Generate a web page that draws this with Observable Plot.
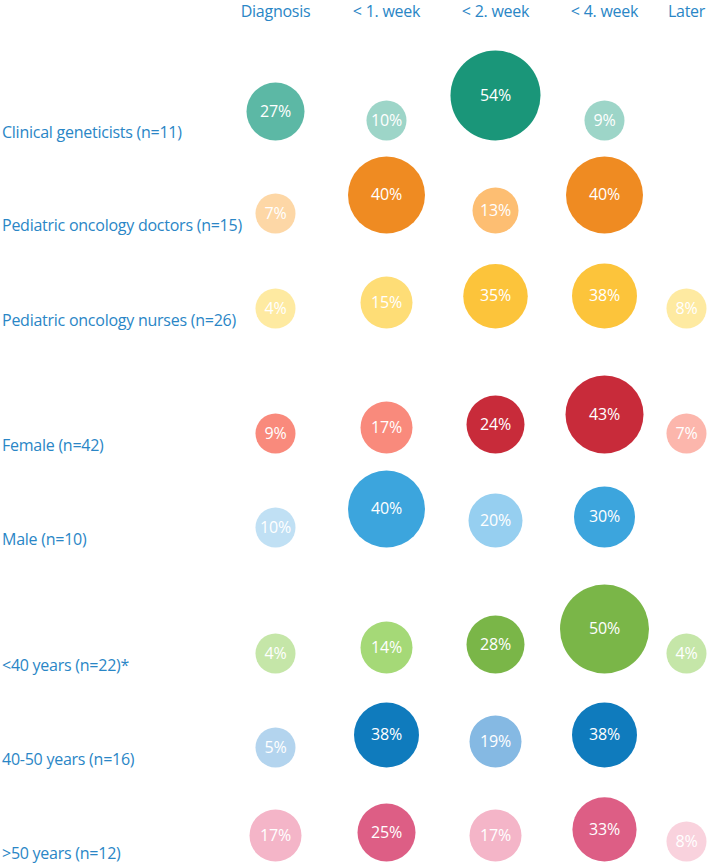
<!DOCTYPE html>
<html><head><meta charset="utf-8">
<script src="https://cdn.jsdelivr.net/npm/d3@7"></script>
<script src="https://cdn.jsdelivr.net/npm/@observablehq/plot@0.6"></script>
<style>body{margin:0;background:#fff} svg{display:block} #chart text{letter-spacing:-0.25px}</style>
</head><body><div id="chart"></div>
<script>
// ---- data ----
const columns = ["Diagnosis", "< 1. week", "< 2. week", "< 4. week", "Later"];
const groups = ["Clinical geneticists (n=11)", "Pediatric oncology doctors (n=15)", "Pediatric oncology nurses (n=26)", "Female (n=42)", "Male (n=10)", "<40 years (n=22)*", "40-50 years (n=16)", ">50 years (n=12)"];
const clinical   = [27, 10, 54,  9, null];
const doctors    = [ 7, 40, 13, 40, null];
const nurses     = [ 4, 15, 35, 38, 8];
const female     = [ 9, 17, 24, 43, 7];
const male       = [10, 40, 20, 30, null];
const under40    = [ 4, 14, 28, 50, 4];
const age40to50  = [ 5, 38, 19, 38, null];
const over50     = [17, 25, 17, 33, 8];
// shade level of each bubble
const clinicalTone  = ["mid", "light", "dark", "light", null];
const doctorsTone   = ["light", "dark", "mid", "dark", null];
const nursesTone    = ["light", "mid", "dark", "dark", "light"];
const femaleTone    = ["mid", "mid", "dark", "dark", "light"];
const maleTone      = ["light", "dark", "mid", "dark", null];
const under40Tone   = ["light", "mid", "dark", "dark", "light"];
const age40to50Tone = ["light", "dark", "mid", "dark", null];
const over50Tone    = ["mid", "dark", "mid", "dark", "light"];

// ---- styles ----
const paletteDark  = ["#1a9679", "#ef8b22", "#fcc43b", "#c82b3a", "#3ca5dd", "#7ab648", "#0f7bbd", "#dd5e85"];
const paletteMid   = ["#5cb8a5", "#fdbe72", "#fedd76", "#f98a7c", "#96cff0", "#a5d977", "#85b9e3", "#f4b5c8"];
const paletteLight = ["#9dd5c8", "#fdd7a6", "#feeaa1", "#fcb6ac", "#c0e0f4", "#c5e6a8", "#b3d4ee", "#f9d2dd"];
const blue = "#2a86c6";

const values = [clinical, doctors, nurses, female, male, under40, age40to50, over50];
const tones = [clinicalTone, doctorsTone, nursesTone, femaleTone, maleTone, under40Tone, age40to50Tone, over50Tone];

const xOpts = {type: "linear", domain: [0, 1, 2, 3, 4], range: [275, 386, 495, 604, 686]};
const yOpts = {type: "linear", domain: [0, 1, 2, 3, 4, 5, 6, 7], range: [140, 233, 328, 453, 547, 673, 767, 861]};
const rOpts = {type: "linear", domain: [0, 12, 14, 19, 22, 28, 32, 38, 40, 43, 50, 54], range: [20, 20, 26, 26, 29, 29, 32, 32.5, 38.5, 39, 44.5, 45]};

const yS = Plot.scale({y: yOpts});
const rS = Plot.scale({r: rOpts});

const cells = groups.flatMap((g, gi) => columns.map((c, ci) => ({
  g, gi, ci, v: values[gi][ci], tone: tones[gi][ci]
}))).filter(d => d.v != null);
// bubbles sit on a common baseline per row
cells.forEach(d => { d.yc = yS.invert(yS.apply(d.gi) - rS.apply(d.v)); });

const colorDomain = groups.flatMap(g => ["dark", "mid", "light"].map(t => g + "|" + t));
const colorRange = groups.flatMap((g, i) => [paletteDark[i], paletteMid[i], paletteLight[i]]);

const chart = Plot.plot({
  width: 709,
  height: 864,
  margin: 0,
  x: {...xOpts, axis: null},
  y: {...yOpts, axis: null},
  r: rOpts,
  color: {type: "ordinal", domain: colorDomain, range: colorRange},
  style: {fontFamily: "'Open Sans', sans-serif", background: "#fff"},
  marks: [
    Plot.text(columns, {x: (d, i) => i, text: d => d, frameAnchor: "top", dy: 5, fill: blue, fontSize: 16}),
    Plot.text(groups, {y: (d, i) => i, text: d => d, frameAnchor: "left", textAnchor: "start", dx: 1.5, dy: -8, fill: blue, fontSize: 16}),
    Plot.dot(cells, {x: "ci", y: "yc", r: "v", fill: d => d.g + "|" + d.tone}),
    Plot.text(cells, {x: "ci", y: "yc", text: d => d.v + "%", fill: "white", fontSize: 16})
  ]
});
document.getElementById("chart").appendChild(chart);
</script>
</body></html>
